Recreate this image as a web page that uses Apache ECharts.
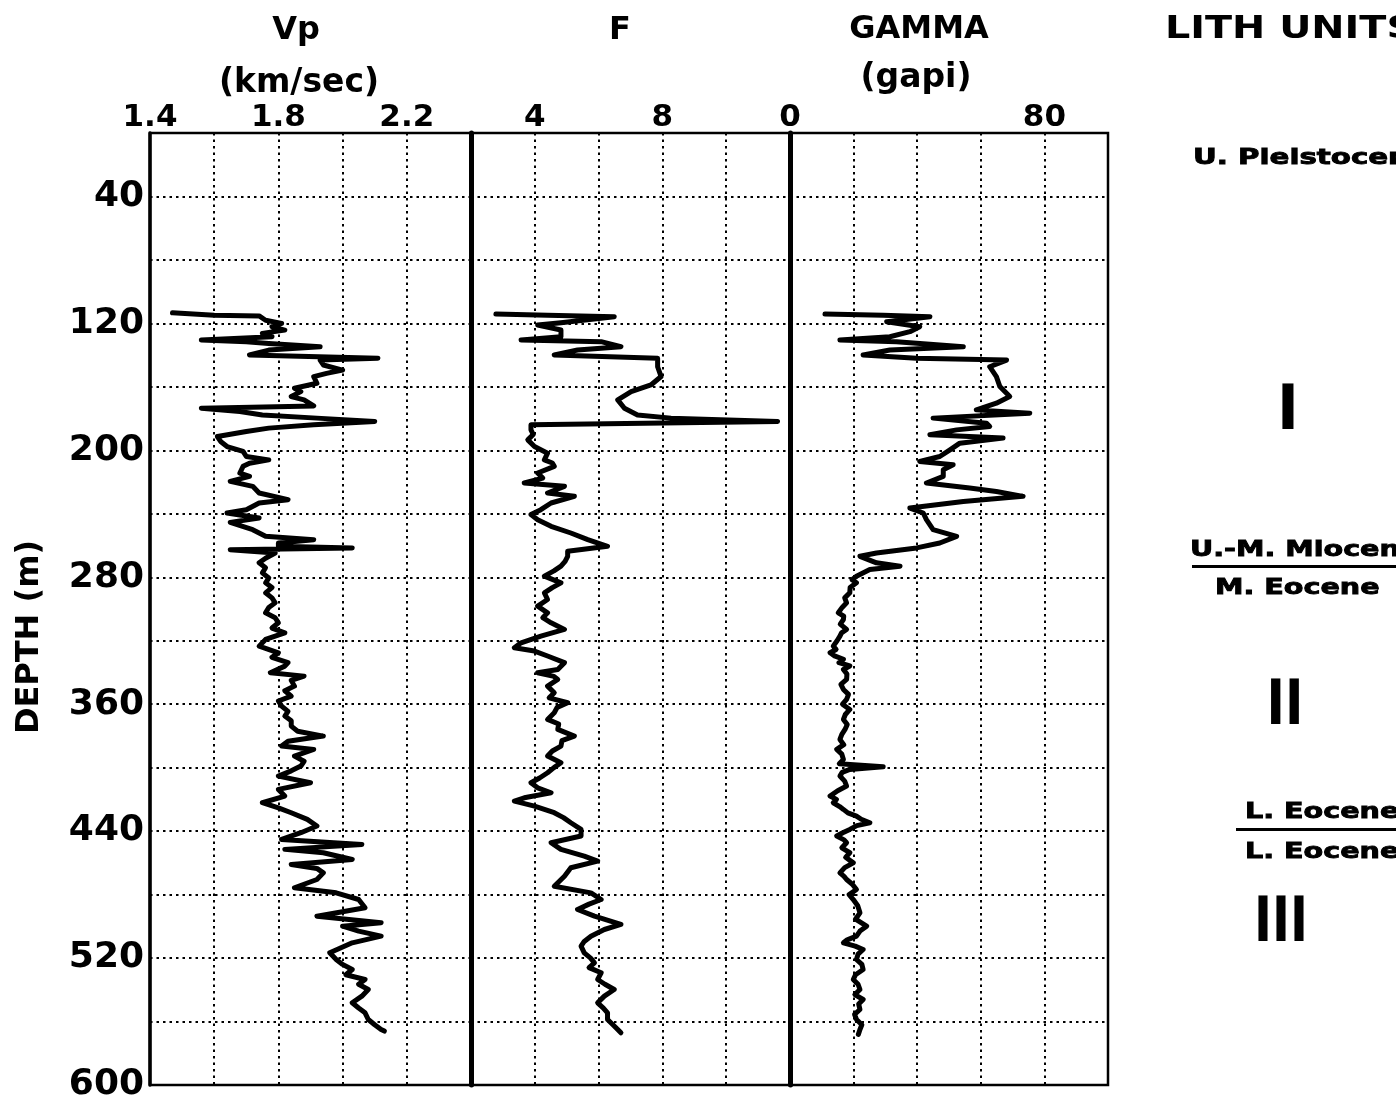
<!DOCTYPE html>
<html>
<head>
<meta charset="utf-8">
<title>Downhole logs: Vp, formation factor and gamma ray</title>
<script src="https://cdn.jsdelivr.net/npm/echarts@6/dist/echarts.min.js"></script>
<style>
  html, body { margin: 0; padding: 0; background: #fff; }
  #chart { width: 1396px; height: 1098px; }
</style>
</head>
<body>
<div id="chart"></div>
<script>
// Depth axis (m), shared by all three log tracks
const depthTicks = [40, 120, 200, 280, 360, 440, 520, 600];

// Tick labels printed across the top of each track
const vpTickLabels = [1.4, 1.8, 2.2];
const fTickLabels = [4, 8];
const gammaTickLabels = [0, 80];

// P-wave velocity, km/s  -> [depth m, Vp]
const vpLog = [
  [113.3,1.47],[114.8,1.60],[115.3,1.74],[118,1.76],[120,1.81],[122.1,1.78],[124.2,1.82],[126.3,1.75],
  [128.4,1.78],[130.5,1.56],[131.5,1.70],[132.6,1.77],[134.7,1.93],[136.8,1.77],[139.9,1.71],[142.0,2.11],
  [143.1,1.93],[146.2,1.94],[149.4,2.00],[151.5,1.95],[153.5,1.91],[157.7,1.92],[160.9,1.85],[163,1.87],
  [166.1,1.84],[168.2,1.88],[172.0,1.91],[173.5,1.56],[175.5,1.68],[177.7,1.75],[179.7,1.92],[181.8,2.10],
  [183.9,1.91],[186.0,1.77],[188.1,1.70],[191.3,1.61],[194.4,1.62],[197.6,1.64],[200.7,1.69],[203.9,1.70],
  [206.0,1.77],[208.1,1.71],[210.1,1.69],[214.3,1.68],[216.4,1.71],[219.6,1.65],[222.7,1.72],[226.9,1.74],
  [231.1,1.83],[233.2,1.74],[237.4,1.70],[239.5,1.64],[242.6,1.74],[245.4,1.65],[250.0,1.72],[254.2,1.76],
  [256.3,1.91],[258.4,1.80],[260.5,1.80],[261.5,2.03],[262.6,1.65],[264.7,1.79],[268.0,1.76],[270.9,1.74],
  [274.0,1.76],[277.2,1.75],[280.5,1.77],[283.5,1.76],[286.5,1.78],[289.8,1.76],[293.0,1.78],[296.1,1.79],
  [299.0,1.77],[302.4,1.76],[305.5,1.79],[308.7,1.80],[312.0,1.78],[315.0,1.82],[319.2,1.76],[323.4,1.74],
  [327.6,1.80],[330.5,1.78],[333.8,1.83],[336.0,1.82],[340.2,1.775],[342.3,1.88],[345.0,1.84],[348.6,1.85],
  [351.5,1.82],[354.9,1.84],[358.0,1.80],[361.2,1.81],[364.5,1.83],[367.5,1.82],[370.5,1.84],[373.8,1.84],
  [377.0,1.86],[380.1,1.94],[383.3,1.83],[386.4,1.81],[388.5,1.91],[392.7,1.85],[396.0,1.88],[399.0,1.87],
  [402.0,1.84],[405.3,1.80],[409.5,1.90],[413.7,1.80],[417.9,1.82],[422.1,1.75],[425.3,1.80],[428.4,1.84],
  [432.6,1.89],[436.8,1.92],[441.0,1.87],[445.2,1.81],[448.4,2.06],[451.5,1.82],[453.6,1.94],[457.9,2.03],
  [461.0,1.84],[463.5,1.92],[466.3,1.94],[470.5,1.92],[475.7,1.85],[478.9,1.98],[483.1,2.05],[488.3,2.07],
  [493.6,1.92],[497.8,2.12],[499.9,2.00],[503.0,2.05],[506.2,2.12],[510.4,2.03],[516.7,1.96],[520.9,1.98],
  [524.0,2.00],[527.2,2.03],[530.5,2.01],[533.5,2.07],[536.5,2.05],[539.8,2.08],[544.0,2.06],[548.2,2.03],
  [551.5,2.05],[554.5,2.07],[558.7,2.08],[562.0,2.10],[565.0,2.12],[566.0,2.13]
];

// Formation factor F -> [depth m, F]
const fLog = [
  [114.1,2.78],[114.8,4.40],[115.8,6.49],[119.6,4.82],[121.0,4.09],[124.2,4.82],[128.4,4.82],[130.5,3.57],
  [131.5,6.08],[134.7,6.70],[136.8,5.34],[139.9,4.61],[142.0,7.85],[147.3,7.85],[153.5,7.96],[158.8,7.64],
  [163.0,7.02],[168.2,6.60],[173.5,6.81],[177.7,7.22],[179.7,8.27],[181.8,11.61],[183.9,3.88],[187.1,3.88],
  [190.0,3.95],[193.4,3.78],[197.6,3.99],[201.8,4.40],[206.0,4.30],[208.0,4.55],[210.1,4.61],[214.3,4.09],
  [217.5,4.25],[220.6,3.67],[222.7,4.93],[226.9,4.40],[229.0,5.24],[233.2,4.51],[237.4,4.19],[240.5,3.88],
  [243.7,4.09],[247.9,4.51],[252.1,5.13],[256.3,5.66],[260.5,6.28],[263.6,5.03],[266.8,5.03],[270.0,4.95],
  [273.0,4.82],[276.0,4.60],[279.3,4.30],[283.5,4.82],[286.5,4.55],[289.8,4.30],[294.0,4.40],[298.2,4.09],
  [302.4,4.40],[305.5,4.25],[308.7,4.51],[312.9,4.93],[317.1,4.19],[321.3,3.57],[324.4,3.36],[326.5,3.99],
  [329.6,4.40],[333.8,4.93],[335.0,4.93],[338.1,4.72],[340.2,4.09],[342.5,4.60],[344.4,4.72],[348.6,4.40],
  [352.8,4.61],[356.0,4.45],[359.1,5.03],[362.0,4.70],[365.4,4.61],[369.6,4.40],[372.5,4.75],[375.9,4.72],
  [380.1,5.24],[383.0,4.85],[386.4,4.82],[389.5,4.55],[392.7,4.40],[396.9,4.82],[400.0,4.60],[403.2,4.40],
  [406.5,4.15],[409.5,3.88],[412.7,4.09],[415.8,4.51],[419.0,3.67],[421.1,3.36],[424.2,3.99],[428.4,4.61],
  [431.5,4.90],[434.7,5.13],[438.9,5.45],[443.1,5.45],[447.3,4.51],[451.5,4.82],[455.7,5.55],[458.9,5.97],
  [463.1,5.13],[468.4,4.93],[474.7,4.61],[478.9,5.76],[483.1,6.08],[486.0,5.70],[489.4,5.34],[493.6,5.87],
  [498.8,6.70],[502.0,6.18],[506.2,5.76],[509.5,5.55],[512.5,5.45],[516.7,5.55],[520.0,5.75],[523.0,5.87],
  [526.0,5.70],[529.3,6.08],[533.5,5.97],[536.5,6.20],[539.8,6.49],[544.0,6.18],[548.2,5.97],[551.5,6.15],
  [554.5,6.28],[558.7,6.28],[562.0,6.45],[565.0,6.60],[567.1,6.70]
];

// Natural gamma ray, gapi -> [depth m, gamma]
const gammaLog = [
  [114.1,11.0],[114.8,29.3],[115.8,44.0],[119.0,30.4],[122.1,40.8],[125.2,37.7],[128.4,31.4],[130.5,15.7],
  [131.5,33.5],[134.7,54.5],[136.8,31.4],[139.9,23.0],[142.0,39.8],[143.1,68.1],[147.3,62.8],[153.5,64.9],
  [159.8,66.0],[166.1,69.1],[170.3,64.9],[174.5,58.6],[176.6,75.4],[179.7,45.0],[182.9,61.8],[185.0,62.8],
  [187.1,52.4],[190.2,44.0],[192.3,67.0],[195.5,53.4],[199.7,50.3],[203.9,47.1],[207.0,40.8],[209.1,51.3],
  [212.2,48.2],[216.4,48.2],[220.6,42.9],[223.8,56.5],[225.9,64.9],[229.0,73.3],[232.2,54.5],[236.4,37.7],
  [239.5,41.9],[243.7,42.9],[250.0,45.0],[254.2,52.4],[258.4,47.1],[261.5,39.8],[264.7,27.2],[266.8,22.0],
  [270.9,27.2],[273.0,34.6],[275.1,25.1],[279.3,20.9],[281.5,19.5],[283.5,20.9],[286.5,18.9],[289.8,18.8],
  [293.0,17.2],[296.1,17.8],[299.0,16.4],[302.4,15.2],[304.5,16.9],[306.6,16.8],[309.5,15.8],[312.9,17.8],
  [315.0,16.2],[317.1,15.7],[320.0,14.8],[323.4,13.6],[325.5,14.5],[327.6,12.6],[329.5,14.0],[331.7,16.8],
  [333.8,15.4],[335.9,18.8],[338.1,16.8],[341.0,17.9],[344.4,17.8],[347.5,16.0],[350.7,16.8],[353.8,18.4],
  [357.0,17.8],[360.0,16.5],[363.3,18.8],[366.5,17.4],[369.6,16.8],[372.8,18.0],[375.9,17.3],[379.0,16.3],
  [382.2,15.7],[385.5,16.9],[388.5,14.7],[391.5,16.3],[394.8,16.8],[397.5,15.5],[399.4,29.3],[401.1,18.8],
  [403.0,16.4],[405.3,15.7],[408.5,17.2],[411.6,17.8],[414.5,15.0],[417.9,12.6],[420.0,14.6],[422.1,13.6],
  [424.5,15.6],[426.3,16.8],[428.5,18.2],[430.5,20.9],[432.5,22.4],[434.7,25.1],[436.5,21.0],[438.9,18.8],
  [441.0,16.6],[443.1,14.7],[445.5,17.0],[447.3,17.8],[450.5,16.3],[453.6,18.8],[456.5,17.5],[460.0,19.9],
  [463.0,17.2],[466.3,15.7],[468.5,17.0],[470.5,17.8],[473.5,19.6],[476.8,20.9],[480.0,18.6],[483.1,19.9],
  [487.0,21.3],[491.5,22.0],[495.5,20.6],[499.9,24.1],[503.0,22.0],[506.2,20.9],[508.5,18.0],[510.4,16.8],
  [512.5,20.5],[514.6,23.0],[517.5,21.4],[520.9,20.9],[524.0,22.6],[527.2,23.0],[530.5,20.6],[533.5,19.9],
  [536.5,21.4],[539.8,22.0],[543.0,20.4],[546.1,23.0],[549.0,21.6],[552.4,22.0],[555.5,20.3],[558.7,20.9],
  [562.0,22.6],[565.0,22.0],[568.1,21.5]
];

// Lithologic units column
const unitTitle = 'LITH UNITS';
const unitTop = 'U. Pleistocene';
const unitBoundary1 = ['U.-M. Miocene', 'M. Eocene'];
const unitBoundary2 = ['L. Eocene', 'L. Eocene'];
const unitNumerals = ['I', 'II', 'III'];

const FONT = 'DejaVu Sans';
const INK = '#000';

const chart = echarts.init(document.getElementById('chart'), null, { renderer: 'canvas' });

const tracks = [
  { left: 150, width: 321, min: 1.4, max: 2.4, interval: 0.2, labels: vpTickLabels, data: vpLog, edge: 3.5 },
  { left: 471, width: 319, min: 2, max: 12, interval: 2, labels: fTickLabels, data: fLog, edge: 5 },
  { left: 790, width: 318, min: 0, max: 100, interval: 20, labels: gammaTickLabels, data: gammaLog, edge: 5 }
];
const TOP = 133, HEIGHT = 952;

const dotted = { color: INK, width: 2, type: [2.5, 4] };

const onTick = (list, v) => list.some(t => Math.abs(t - v) < 1e-6);

// Bold text placed in pixels; sx stretches it sideways, heavy adds an outline stroke
function txt(text, x, y, size, align, sx, heavy) {
  const style = { text: text, fill: INK, font: 'bold ' + size + 'px "' + FONT + '"', textAlign: align, textVerticalAlign: 'middle' };
  if (heavy) { style.stroke = INK; style.lineWidth = heavy; }
  return { type: 'text', x: x, y: y, scaleX: sx || 1, style: style };
}

const option = {
  animation: false,
  backgroundColor: '#fff',
  grid: tracks.map(t => ({
    left: t.left, top: TOP, width: t.width, height: HEIGHT,
    outerBoundsMode: 'none', containLabel: false,
    show: true, borderColor: INK, borderWidth: 2.5, backgroundColor: 'transparent'
  })),
  xAxis: tracks.map((t, i) => ({
    type: 'value', gridIndex: i, position: 'top',
    min: t.min, max: t.max, interval: t.interval,
    axisLine: { show: false }, axisTick: { show: false },
    axisLabel: {
      show: true, margin: 0, color: INK, fontFamily: FONT, fontWeight: 'bold', fontSize: 31,
      showMinLabel: true, showMaxLabel: true,
      formatter: v => onTick(t.labels, v) ? String(+v.toFixed(1)) : ''
    },
    splitLine: { show: true, lineStyle: dotted }
  })),
  yAxis: tracks.map((t, i) => ({
    type: 'value', gridIndex: i, inverse: true,
    min: 0, max: 600, interval: 40,
    axisLine: { show: true, lineStyle: { color: INK, width: t.edge } },
    axisTick: { show: false },
    axisLabel: i === 0 ? {
      show: true, margin: 6, color: INK, fontFamily: FONT, fontWeight: 'bold', fontSize: 36,
      showMinLabel: true, showMaxLabel: true,
      formatter: v => depthTicks.includes(v) ? String(v) : ''
    } : { show: false },
    splitLine: { show: true, lineStyle: dotted }
  })),
  series: tracks.map((t, i) => ({
    type: 'line', xAxisIndex: i, yAxisIndex: i,
    symbol: 'none', silent: true,
    lineStyle: { color: INK, width: 5, join: 'round', cap: 'round' },
    data: t.data.map(p => [p[1], p[0]])
  })),
  graphic: {
    elements: [
      txt('Vp', 296, 31, 32, 'center'),
      txt('(km/sec)', 299, 83, 33, 'center'),
      txt('F', 620, 31, 32, 'center'),
      txt('GAMMA', 919, 30, 32, 'center'),
      txt('(gapi)', 916, 78, 33, 'center'),
      txt(unitTitle, 1165, 30, 32, 'left', 1.24),
      txt(unitTop, 1193, 158, 22, 'left', 1.33, 0.9),
      txt(unitNumerals[0], 1288, 413, 62, 'center', 0.95),
      txt(unitBoundary1[0], 1190, 550, 22, 'left', 1.3, 0.9),
      { type: 'rect', shape: { x: 1192, y: 565, width: 206, height: 3 }, style: { fill: INK } },
      txt(unitBoundary1[1], 1215, 588, 22, 'left', 1.3, 0.9),
      txt(unitNumerals[1], 1285, 708, 62, 'center', 0.8),
      txt(unitBoundary2[0], 1245, 812, 22, 'left', 1.3, 0.9),
      { type: 'rect', shape: { x: 1236, y: 828, width: 162, height: 3 }, style: { fill: INK } },
      txt(unitBoundary2[1], 1245, 852, 22, 'left', 1.3, 0.9),
      txt(unitNumerals[2], 1281, 925, 62, 'center', 0.78),
      {
        type: 'text', x: 30, y: 637, rotation: Math.PI / 2,
        style: { text: 'DEPTH (m)', fill: INK, font: 'bold 32px "' + FONT + '"', textAlign: 'center', textVerticalAlign: 'middle' }
      }
    ]
  }
};

chart.setOption(option);
</script>
</body>
</html>
